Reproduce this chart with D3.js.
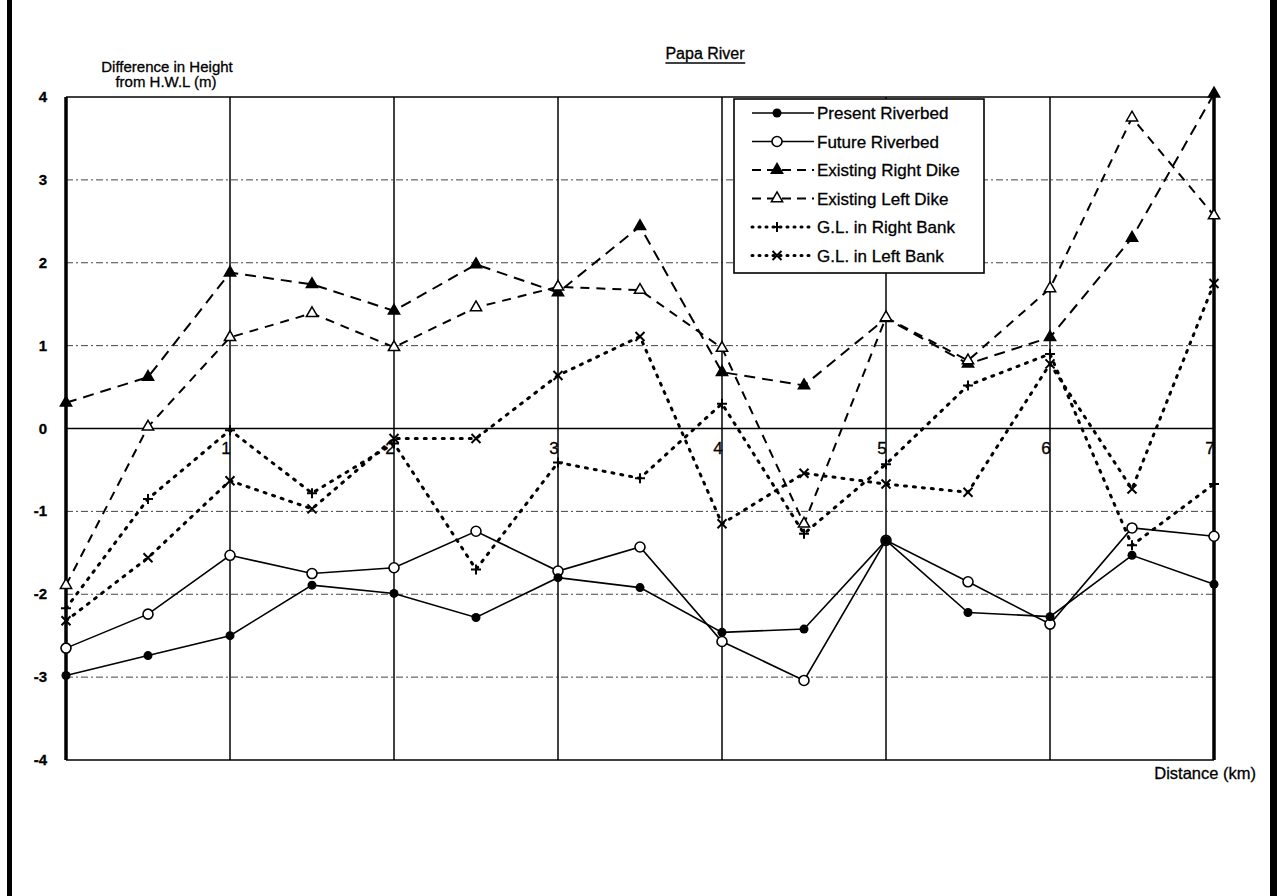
<!DOCTYPE html>
<html>
<head>
<meta charset="utf-8">
<script src="https://cdn.jsdelivr.net/npm/d3@7"></script>
<style>
  body { margin: 0; background: #fff; }
  svg { display: block; font-family: "Liberation Sans", Arial, sans-serif; }
  svg text { fill: #000; stroke: #000; stroke-width: 0.3px; }
</style>
</head>
<body>
<div id="chart"></div>
<script>
// distance along the river (km)
const distances = [0, 0.5, 1, 1.5, 2, 2.5, 3, 3.5, 4, 4.5, 5, 5.5, 6, 6.5, 7]

// difference in height from H.W.L. (m)
const presentRiverbed = [-2.98, -2.74, -2.50, -1.89, -1.99, -2.28, -1.80, -1.92, -2.46, -2.42, -1.35, -2.22, -2.27, -1.53, -1.88]
const futureRiverbed = [-2.65, -2.24, -1.53, -1.75, -1.68, -1.24, -1.72, -1.43, -2.57, -3.04, -1.35, -1.85, -2.36, -1.20, -1.30]
const rightDike = [0.31, 0.62, 1.88, 1.74, 1.42, 1.98, 1.64, 2.44, 0.68, 0.52, 1.33, 0.78, 1.10, 2.30, 4.04]
const leftDike = [-1.89, 0.02, 1.10, 1.39, 0.98, 1.46, 1.71, 1.67, 0.97, -1.15, 1.34, 0.82, 1.69, 3.75, 2.57]
const rightBank = [-2.17, -0.85, -0.02, -0.78, -0.18, -1.70, -0.41, -0.60, 0.30, -1.27, -0.43, 0.52, 0.90, -1.41, -0.67]
const leftBank = [-2.32, -1.56, -0.63, -0.97, -0.12, -0.12, 0.64, 1.11, -1.15, -0.54, -0.67, -0.77, 0.78, -0.73, 1.75]

const xTicks = [1, 2, 3, 4, 5, 6, 7]
const yTicks = [4, 3, 2, 1, 0, -1, -2, -3, -4]

const seriesNames = ['Present Riverbed', 'Future Riverbed', 'Existing Right Dike', 'Existing Left Dike', 'G.L. in Right Bank', 'G.L. in Left Bank']
const seriesValues = [presentRiverbed, futureRiverbed, rightDike, leftDike, rightBank, leftBank]

const W = 1277
const H = 896
const plot = { left: 66, right: 1214, top: 97, bottom: 760 }

const svg = d3.select('#chart').append('svg')
  .attr('width', W)
  .attr('height', H)

// page frame bars left and right
svg.append('rect').attr('x', 7).attr('y', 0).attr('width', 5).attr('height', H).attr('fill', '#000')
svg.append('rect').attr('x', 1270).attr('y', 0).attr('width', 7).attr('height', H).attr('fill', '#000')

const x = d3.scaleLinear().domain([0, 7]).range([plot.left, plot.right])
const y = d3.scaleLinear().domain([-4, 4]).range([plot.bottom, plot.top])

// horizontal grid
svg.append('g')
  .selectAll('line')
  .data(yTicks.filter(d => d !== 0 && d !== 4 && d !== -4))
  .join('line')
  .attr('x1', plot.left)
  .attr('x2', plot.right)
  .attr('y1', d => y(d))
  .attr('y2', d => y(d))
  .attr('stroke', '#444')
  .attr('stroke-width', 1)
  .attr('stroke-dasharray', '7,3,2,3')

// vertical grid at each km
svg.append('g')
  .selectAll('line')
  .data(xTicks.filter(d => d < 7))
  .join('line')
  .attr('x1', d => x(d))
  .attr('x2', d => x(d))
  .attr('y1', plot.top)
  .attr('y2', plot.bottom)
  .attr('stroke', '#111')
  .attr('stroke-width', 1.6)

// zero line acts as the distance axis
svg.append('line')
  .attr('x1', plot.left).attr('x2', plot.right)
  .attr('y1', y(0)).attr('y2', y(0))
  .attr('stroke', '#000').attr('stroke-width', 1.6)

// plot frame
svg.append('line').attr('x1', plot.left).attr('x2', plot.right).attr('y1', plot.top).attr('y2', plot.top)
  .attr('stroke', '#000').attr('stroke-width', 1.6)
svg.append('line').attr('x1', plot.left).attr('x2', plot.right).attr('y1', plot.bottom).attr('y2', plot.bottom)
  .attr('stroke', '#000').attr('stroke-width', 1.6)
svg.append('line').attr('x1', plot.left).attr('x2', plot.left).attr('y1', plot.top).attr('y2', plot.bottom)
  .attr('stroke', '#000').attr('stroke-width', 3.5)
svg.append('line').attr('x1', plot.right).attr('x2', plot.right).attr('y1', plot.top).attr('y2', plot.bottom)
  .attr('stroke', '#000').attr('stroke-width', 3.5)

// y tick labels
svg.append('g')
  .selectAll('text')
  .data(yTicks)
  .join('text')
  .attr('x', 47)
  .attr('y', d => y(d) + 5)
  .attr('text-anchor', 'end')
  .attr('font-size', 15)
  .attr('font-weight', 'bold')
  .text(d => d)

// x tick labels sit just under the zero line
svg.append('g')
  .selectAll('text')
  .data(xTicks)
  .join('text')
  .attr('x', d => x(d) - 4)
  .attr('y', y(0) + 25)
  .attr('text-anchor', 'middle')
  .attr('font-size', 17)
  .text(d => d)

// titles
svg.append('text').attr('x', 167).attr('y', 72).attr('text-anchor', 'middle')
  .attr('font-size', 15).text('Difference in Height')
svg.append('text').attr('x', 166).attr('y', 87).attr('text-anchor', 'middle')
  .attr('font-size', 15).text('from H.W.L  (m)')
const title = svg.append('text').attr('x', 705).attr('y', 59).attr('text-anchor', 'middle')
  .attr('font-size', 16).text('Papa River')
const tb = title.node().getBBox()
svg.append('line').attr('x1', tb.x).attr('x2', tb.x + tb.width).attr('y1', 63).attr('y2', 63)
  .attr('stroke', '#000').attr('stroke-width', 1.4)
svg.append('text').attr('x', 1256).attr('y', 779).attr('text-anchor', 'end')
  .attr('font-size', 16.5).text('Distance (km)')

// series styling
const styles = [
  { dash: null, width: 1.6, marker: 'dot' },
  { dash: null, width: 1.6, marker: 'circle' },
  { dash: '11,7', width: 2, marker: 'tri' },
  { dash: '9,7', width: 2, marker: 'tri-open' },
  { dash: '2,7', width: 3, marker: 'plus' },
  { dash: '2,7', width: 3, marker: 'cross' }
]

function drawMarker (g, type, cx, cy) {
  if (type === 'dot') {
    g.append('circle').attr('cx', cx).attr('cy', cy).attr('r', 4.5).attr('fill', '#000')
  } else if (type === 'circle') {
    g.append('circle').attr('cx', cx).attr('cy', cy).attr('r', 5).attr('fill', '#fff')
      .attr('stroke', '#000').attr('stroke-width', 1.6)
  } else if (type === 'tri' || type === 'tri-open') {
    g.append('path')
      .attr('d', d3.symbol(d3.symbolTriangle, 55)())
      .attr('transform', `translate(${cx},${cy})`)
      .attr('fill', type === 'tri' ? '#000' : '#fff')
      .attr('stroke', '#000').attr('stroke-width', 1.5)
  } else if (type === 'plus') {
    g.append('path').attr('d', `M${cx - 5},${cy}H${cx + 5}M${cx},${cy - 5}V${cy + 5}`)
      .attr('stroke', '#000').attr('stroke-width', 2)
  } else {
    g.append('path').attr('d', `M${cx - 4.5},${cy - 4.5}L${cx + 4.5},${cy + 4.5}M${cx + 4.5},${cy - 4.5}L${cx - 4.5},${cy + 4.5}`)
      .attr('stroke', '#000').attr('stroke-width', 2)
  }
}

const line = d3.line()
  .x((d, i) => x(distances[i]))
  .y(d => y(d))

// draw back to front so riverbeds sit on top, left dike over right dike
const order = [5, 4, 2, 3, 1, 0]
order.forEach(k => {
  const s = styles[k]
  const g = svg.append('g')
  g.append('path')
    .datum(seriesValues[k])
    .attr('d', line)
    .attr('fill', 'none')
    .attr('stroke', '#000')
    .attr('stroke-width', s.width)
    .attr('stroke-linecap', s.marker === 'plus' || s.marker === 'cross' ? 'round' : 'butt')
    .attr('stroke-dasharray', s.dash)
  seriesValues[k].forEach((v, i) => drawMarker(g, s.marker, x(distances[i]), y(v)))
})

// legend
const lg = svg.append('g').attr('transform', 'translate(734,99)')
lg.append('rect').attr('width', 250).attr('height', 174)
  .attr('fill', '#fff').attr('stroke', '#000').attr('stroke-width', 1.6)
seriesNames.forEach((name, i) => {
  const s = styles[i]
  const ly = 14 + i * 28.5
  lg.append('line').attr('x1', 18).attr('x2', 80).attr('y1', ly).attr('y2', ly)
    .attr('stroke', '#000').attr('stroke-width', s.width)
    .attr('stroke-linecap', s.marker === 'plus' || s.marker === 'cross' ? 'round' : 'butt')
    .attr('stroke-dasharray', s.dash ? (s.marker === 'plus' || s.marker === 'cross' ? '1,6' : '9,6') : null)
  drawMarker(lg, s.marker, 43, ly)
  lg.append('text').attr('x', 83).attr('y', ly + 6).attr('font-size', 17).text(name)
})
</script>
</body>
</html>
